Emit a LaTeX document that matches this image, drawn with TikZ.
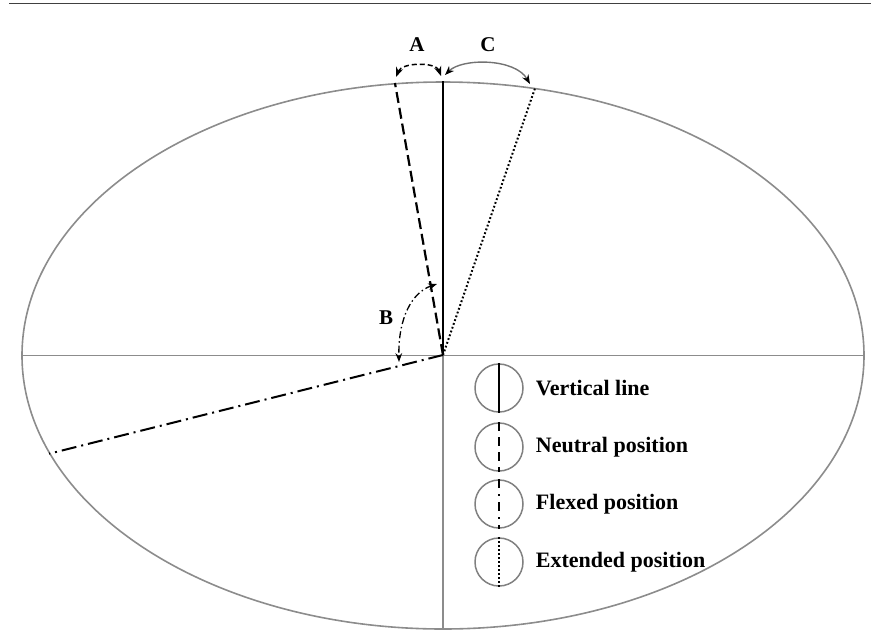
\documentclass[tikz,border=0pt]{standalone}
\usepackage{fontspec}
\setmainfont{Liberation Serif}
\usepackage{tikz}
\usetikzlibrary{shapes.geometric}
\usetikzlibrary{arrows.meta, positioning}

\begin{document}
\begin{tikzpicture}[
			x=1pt, y=-1pt,
			axis/.style={draw=black!45, line width=1.6pt},
			vline/.style={draw=black, line width=2.3pt},
			neutral/.style={draw=black, line width=2.2pt, dash pattern=on 11pt off 5pt},
			flexed/.style={draw=black, line width=2pt, dash pattern=on 15pt off 5pt on 2pt off 5pt},
			extended/.style={draw=black, line width=2pt, dash pattern=on 1.8pt off 2.2pt},
			legcirc/.style={circle, draw=black!50, line width=1.5pt, minimum size=48pt, inner sep=0pt},
			legtext/.style={font=\fontsize{22}{25}\selectfont\bfseries, inner sep=0pt, anchor=west},
			lbl/.style={font=\fontsize{21}{24}\selectfont\bfseries, inner sep=0pt}
		]
		\useasboundingbox (0,0) rectangle (871,641);
		\draw[black!75, line width=1.4pt] (9,3.5) -- (871,3.5);

		% the ellipse and its axes
		\node[ellipse, axis, minimum width=842pt, minimum height=547pt, inner sep=0pt] (ell) at (443,355.5) {};
		\coordinate (O) at (443,355);
		\draw[axis] (ell.west) -- (ell.east);
		\draw[axis] (O) -- (ell.south);

		% the four positions
		\draw[vline] (O) -- (ell.north);
		\draw[neutral] (O) -- (ell.100);
		\draw[extended] (O) -- (ell.71.6);
		\draw[flexed] (O) -- (ell.194);

		% angles
		\coordinate (a1) at (441,76);
		\coordinate (a2) at (396,77);
		\draw[{Stealth[black]}-{Stealth[black]}, black, line width=1.5pt, dash pattern=on 5pt off 3pt]
			(a1) .. controls (436,62) and (402,62) .. (a2);
		\node[lbl] (A) at (417,45) {A};

		\coordinate (c1) at (445,75);
		\coordinate (c2) at (530,84);
		\draw[{Stealth[black]}-{Stealth[black]}, black!55, line width=1.4pt]
			(c1) .. controls (462,58) and (515,58) .. (c2);
		\node[lbl] (C) at (488,45) {C};

		\coordinate (b1) at (437,284);
		\coordinate (b2) at (399,362);
		\draw[{Stealth[black]}-{Stealth[black]}, black, line width=1.3pt, dash pattern=on 7pt off 3pt on 1.5pt off 3pt]
			(b1) .. controls (412,292) and (398,318) .. (b2);
		\node[lbl] (B) at (386,318) {B};

		% legend
		\node[legcirc] (l1) at (499,388) {};
		\node[legcirc] (l2) at (499,447) {};
		\node[legcirc] (l3) at (499,504) {};
		\node[legcirc] (l4) at (499,562) {};
		\draw[vline] (l1.north) -- (l1.south);
		\draw[neutral, dash pattern=on 9pt off 6pt] (l2.north) -- (l2.south);
		\draw[flexed, dash pattern=on 9pt off 6pt on 2pt off 6pt] (l3.north) -- (l3.south);
		\draw[extended] (l4.north) -- (l4.south);
		\node[legtext, right=12pt of l1] (t1) {Vertical line};
		\node[legtext, right=12pt of l2] (t2) {Neutral position};
		\node[legtext, right=12pt of l3] (t3) {Flexed position};
		\node[legtext, right=12pt of l4] (t4) {Extended position};
	\end{tikzpicture}
\end{document}
